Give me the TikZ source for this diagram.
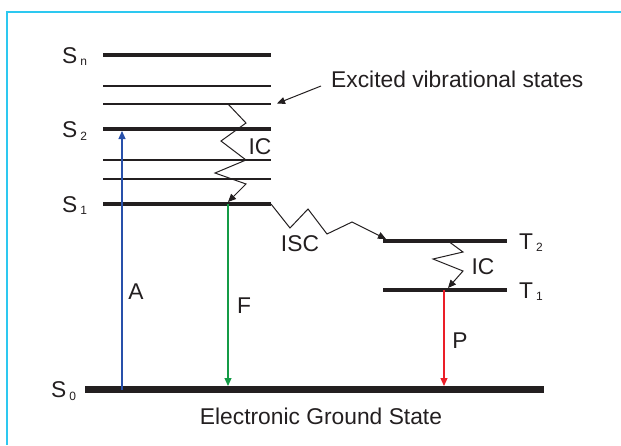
\documentclass[tikz,border=0pt]{standalone}
\usepackage{fontspec}
\setmainfont{Liberation Sans}
\usetikzlibrary{arrows.meta}
\definecolor{framecyan}{RGB}{45,200,240}
\definecolor{absblue}{RGB}{40,80,170}
\definecolor{fluogreen}{RGB}{20,155,70}
\definecolor{phosred}{RGB}{235,30,40}
\definecolor{inkgray}{RGB}{35,31,32}
\newcommand{\statename}[2]{#1\kern3pt\raisebox{-2.5pt}{\fontsize{12}{12}\selectfont #2}}

\begin{document}
\begin{tikzpicture}[x=1pt, y=-1pt, inkgray,
    font=\fontsize{22.8}{26}\selectfont,
    level/.style={line width=4pt},
    vibline/.style={line width=1.2pt},
    groundline/.style={line width=7pt},
    tip/.style={-{Triangle[length=8pt,width=7pt]}},
    zigzag/.style={tip, line width=1pt},
    lbl/.style={inner sep=0pt, anchor=base west},
    txt/.style={inner sep=0pt}]

    \useasboundingbox (0,0) rectangle (621,445);

    % Rahmen
    \draw[framecyan, line width=1.5pt] (7,445) -- (7,12) -- (621,12);

    % Singulett-Niveaus
    \coordinate (Sn-w) at (103,54.5);  \coordinate (Sn-e) at (271,54.5);
    \coordinate (S2-w) at (103,129);   \coordinate (S2-e) at (271,129);
    \coordinate (S1-w) at (103,204);   \coordinate (S1-e) at (271,204);
    \coordinate (S0-w) at (85,389.5);  \coordinate (S0-e) at (544,389.5);
    \draw[level] (Sn-w) -- (Sn-e);
    \draw[level] (S2-w) -- (S2-e);
    \draw[level] (S1-w) -- (S1-e);
    \draw[groundline] (S0-w) -- (S0-e);

    % Schwingungsniveaus
    \foreach \y in {86,104,160,179}
        \draw[vibline] (103,\y) -- (271,\y);

    % Triplett-Niveaus
    \coordinate (T2-w) at (383,241);   \coordinate (T2-e) at (507,241);
    \coordinate (T1-w) at (383,290);   \coordinate (T1-e) at (507,290);
    \draw[level] (T2-w) -- (T2-e);
    \draw[level] (T1-w) -- (T1-e);

    % Beschriftung der Niveaus
    \node[lbl] (Sn-lab) at (62,63) {\statename{S}{n}};
    \node[lbl] (S2-lab) at (62,137.5) {\statename{S}{2}};
    \node[lbl] (S1-lab) at (62,212) {\statename{S}{1}};
    \node[lbl] (S0-lab) at (51,397.5) {\statename{S}{0}};
    \node[lbl] (T2-lab) at (519,249) {\statename{T}{2}};
    \node[lbl] (T1-lab) at (519,298) {\statename{T}{1}};

    % Hinweis auf angeregte Schwingungszustaende
    \node[lbl] (exc) at (331,87) {Excited vibrational states};
    \coordinate (exc-tail) at (321,86);
    \coordinate (exc-tip) at (277,103.5);
    \draw[tip, line width=1pt] (exc-tail) -- (exc-tip);

    % Absorption, Fluoreszenz, Phosphoreszenz
    \coordinate (A-bot) at (122,389.5);  \coordinate (A-top) at (122,131);
    \coordinate (F-top) at (228,204);    \coordinate (F-bot) at (228,386);
    \coordinate (P-top) at (444,290);    \coordinate (P-bot) at (444,386);
    \draw[tip, absblue, line width=1.1pt] (A-bot) -- (A-top);
    \draw[tip, fluogreen, line width=1.1pt] (F-top) -- (F-bot);
    \draw[tip, phosred, line width=1.1pt] (P-top) -- (P-bot);
    \node[txt] (A-lab) at (136,292) {A};
    \node[txt] (F-lab) at (244,306) {F};
    \node[txt] (P-lab) at (460,341) {P};

    % Innere Umwandlung und Interkombination
    \coordinate (ic1-start) at (228,104);  \coordinate (ic1-end) at (228,202);
    \draw[zigzag] (ic1-start) -- ++(18,19) -- ++(-25,18) -- ++(25,19)
        -- ++(-31,13) -- ++(31,11) -- (ic1-end);
    \node[txt] (ic1-lab) at (260,147) {IC};

    \coordinate (isc-end) at (386,239);
    \draw[zigzag] (S1-e) -- ++(19,24) -- ++(18,-19) -- ++(19,25)
        -- ++(25,-12) -- (isc-end);
    \node[txt] (isc-lab) at (300,243.5) {ISC};

    \coordinate (ic2-start) at (448,241);  \coordinate (ic2-end) at (448,288);
    \draw[zigzag] (ic2-start) -- ++(15,11) -- ++(-30,7) -- ++(30,12) -- (ic2-end);
    \node[txt] (ic2-lab) at (483,267) {IC};

    % Grundzustand
    \node[txt, anchor=base] (ground-lab) at (321,424) {Electronic Ground State};

\end{tikzpicture}
\end{document}
